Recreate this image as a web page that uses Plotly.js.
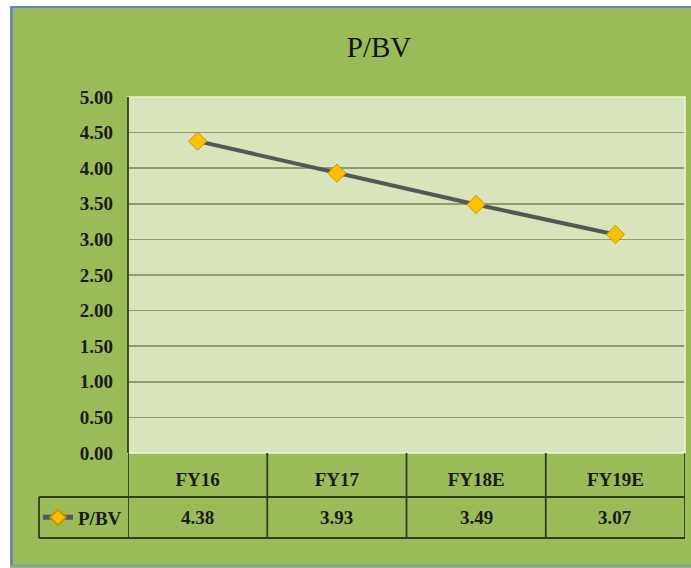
<!DOCTYPE html>
<html>
<head>
<meta charset="utf-8">
<script src="https://cdn.plot.ly/plotly-3.0.1.min.js"></script>
<style>html,body{margin:0;padding:0;background:#fff;}#chart{width:691px;height:568px;}</style>
</head>
<body>
<div id="chart"></div>
<script>
// ---- data ----
const categories = ["FY16", "FY17", "FY18E", "FY19E"];
const pbvValues = [4.38, 3.93, 3.49, 3.07];
const seriesName = "P/BV";
const chartTitle = "P/BV";

// ---- geometry helpers (pixels -> paper) ----
const W = 691, H = 568;
const M = {l: 128, r: 6, t: 97, b: 115};
const PW = W - M.l - M.r, PH = H - M.t - M.b;
const px = x => (x - M.l) / PW;
const py = y => (H - M.b - y) / PH;

const FONT = "'Times New Roman', 'Liberation Serif', 'DejaVu Serif', serif";
const border = "#2e3d1a";

const shapes = [];
// white margins and blue frame of the chart object
shapes.push({type:"rect", xref:"paper", yref:"paper", x0:px(0), x1:px(10), y0:py(0), y1:py(H), fillcolor:"#ffffff", line:{width:0}, layer:"below"});
shapes.push({type:"rect", xref:"paper", yref:"paper", x0:px(0), x1:px(W), y0:py(0), y1:py(6), fillcolor:"#ffffff", line:{width:0}, layer:"below"});
shapes.push({type:"line", xref:"paper", yref:"paper", x0:px(11.5), x1:px(11.5), y0:py(6), y1:py(566), line:{color:"#5f87b8", width:2.5}});
shapes.push({type:"line", xref:"paper", yref:"paper", x0:px(10), x1:px(W), y0:py(7), y1:py(7), line:{color:"#5f87b8", width:2}});
shapes.push({type:"line", xref:"paper", yref:"paper", x0:px(10), x1:px(W), y0:py(565.5), y1:py(565.5), line:{color:"#7d9fc2", width:2}});

// plot area light border (top/right/bottom)
shapes.push({type:"rect", xref:"paper", yref:"paper", x0:0, x1:1, y0:0, y1:1, line:{color:"#eef4e2", width:1.5}, fillcolor:"rgba(0,0,0,0)"});

// data-table grid: column dividers at category boundaries
const rowTop = py(453), rowMid = py(497), rowBot = py(538);
for (let i = 0; i <= categories.length; i++) {
  shapes.push({type:"line", xref:"x", yref:"paper", x0:i - 0.5, x1:i - 0.5, y0:rowTop, y1:rowBot, line:{color:border, width:1.8}});
}
// horizontal table lines
shapes.push({type:"line", xref:"paper", yref:"paper", x0:px(39), x1:1, y0:rowMid, y1:rowMid, line:{color:border, width:1.8}});
shapes.push({type:"line", xref:"paper", yref:"paper", x0:px(39), x1:1, y0:rowBot, y1:rowBot, line:{color:border, width:1.8}});
// legend cell left edge
shapes.push({type:"line", xref:"paper", yref:"paper", x0:px(39), x1:px(39), y0:rowMid, y1:rowBot, line:{color:border, width:1.8}});
// left axis line of plot
shapes.push({type:"line", xref:"paper", yref:"paper", x0:0, x1:0, y0:0, y1:1, line:{color:border, width:1.8}});

// value row annotations
const annotations = categories.map((c, i) => ({
  x: c, xref: "x", y: (rowMid + rowBot) / 2, yref: "paper",
  text: "<b>" + pbvValues[i].toFixed(2) + "</b>", showarrow: false,
  font: {family: FONT, size: 19, color: "#1a1a1a"},
  xanchor: "center", yanchor: "middle"
}));

const trace = {
  x: categories, y: pbvValues, name: "<b>" + seriesName + "</b>",
  type: "scatter", mode: "lines+markers",
  line: {color: "#575757", width: 4},
  marker: {symbol: "diamond", size: 14, color: "#ffc000", line: {color: "#c79600", width: 1}},
  hoverinfo: "x+y"
};

const layout = {
  width: W, height: H,
  margin: M,
  font: {family: FONT},
  paper_bgcolor: "#9bbb59",
  plot_bgcolor: "#d8e4bc",
  title: {text: chartTitle, x: 379 / W, xanchor: "center", y: 1 - 47 / H, yanchor: "middle",
          font: {family: FONT, size: 29, color: "#111"}},
  showlegend: true,
  legend: {x: px(38), xanchor: "left", y: (rowMid + rowBot) / 2, yanchor: "middle",
           bgcolor: "rgba(0,0,0,0)", borderwidth: 0, itemsizing: "constant",
           font: {family: FONT, size: 19, color: "#1a1a1a"}},
  xaxis: {
    type: "category", range: [-0.5, categories.length - 0.5],
    showgrid: false, zeroline: false, showline: false,
    ticks: "", ticklabelstandoff: 13,
    tickfont: {family: FONT, size: 19, color: "#1a1a1a", weight: "bold"},
    fixedrange: true
  },
  yaxis: {
    range: [0, 5], dtick: 0.5, tick0: 0, tickformat: ".2f",
    showgrid: true, gridcolor: "#8e9c78", gridwidth: 1.5,
    zeroline: false, showline: false, ticks: "",
    ticklabelstandoff: 14,
    tickfont: {family: FONT, size: 19, color: "#1a1a1a", weight: "bold"},
    fixedrange: true
  },
  shapes: shapes,
  annotations: annotations
};

Plotly.newPlot("chart", [trace], layout, {displayModeBar: false, staticPlot: true});
</script>
</body>
</html>
